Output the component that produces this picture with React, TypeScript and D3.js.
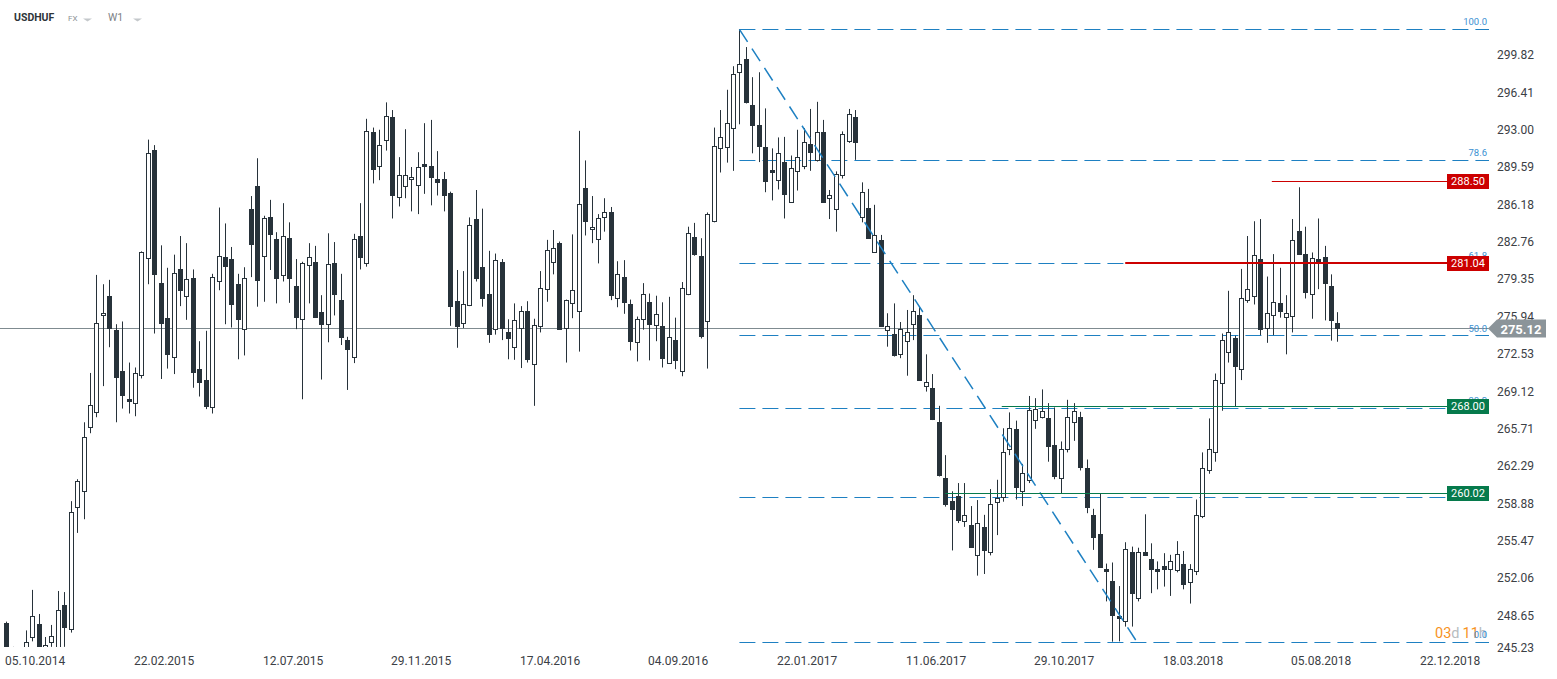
import React from "react";
import * as d3 from "d3";

// Weekly candles USDHUF: [open, high, low, close]
const ohlc: [number, number, number, number][] = [
  [248.2, 248.3, 244.5, 245.0], [244.9, 246.0, 243.5, 244.2], [244.2, 245.8, 243.0, 245.0], [245.5, 247.5, 245.0, 246.4],
  [246.9, 251.2, 246.5, 248.85], [248.06, 249.0, 245.6, 246.1], [245.9, 246.9, 245.5, 246.2], [246.4, 248.0, 246.0, 247.0],
  [246.0, 251.1, 245.8, 249.4], [249.8, 251.0, 246.0, 247.85], [247.6, 259.3, 247.3, 258.3], [258.8, 261.3, 256.4, 261.15],
  [260.2, 266.5, 257.65, 265.2], [266.1, 271.0, 265.5, 268.05], [267.4, 279.95, 266.96, 275.6], [276.3, 279.1, 269.8, 276.5],
  [278.05, 279.5, 273.35, 275.15], [274.9, 275.45, 266.5, 270.65], [271.2, 275.7, 267.75, 269.0], [268.65, 271.95, 267.3, 268.4],
  [268.3, 271.5, 267.05, 271.0], [270.8, 282.1, 270.5, 282.0], [281.45, 292.3, 279.1, 291.1], [291.35, 291.8, 274.6, 280.05],
  [279.2, 282.65, 270.45, 275.6], [276.05, 280.6, 271.4, 272.7], [272.45, 281.8, 270.9, 280.1], [280.45, 283.5, 277.1, 278.6],
  [278.0, 282.85, 275.85, 279.55], [279.65, 280.45, 269.65, 271.05], [271.35, 273.9, 268.85, 270.2], [270.4, 274.85, 267.7, 267.95],
  [267.85, 280.05, 267.3, 279.75], [279.35, 286.1, 278.55, 281.7], [281.55, 284.65, 275.45, 280.75], [281.4, 282.5, 275.15, 277.25],
  [279.15, 280.05, 272.25, 275.95], [275.0, 280.65, 272.6, 279.65], [285.95, 287.15, 279.75, 282.8], [288.05, 290.6, 277.05, 279.5],
  [281.65, 285.35, 277.5, 285.15], [285.25, 286.8, 280.4, 283.7], [283.2, 283.85, 277.35, 279.7], [279.9, 286.5, 279.35, 283.5],
  [283.3, 284.75, 277.4, 279.7], [278.9, 281.4, 275.0, 276.15], [275.9, 281.15, 268.6, 281.0], [280.85, 282.85, 277.35, 281.55],
  [281.1, 282.6, 276.05, 276.15], [276.6, 278.1, 270.4, 275.45], [275.45, 283.75, 273.8, 280.95], [281.0, 282.95, 276.25, 278.25],
  [277.65, 280.05, 273.55, 274.3], [274.0, 274.3, 269.45, 273.15], [272.45, 283.7, 271.9, 283.2], [283.5, 286.5, 280.45, 281.55],
  [281.0, 294.2, 280.7, 293.05], [293.0, 293.4, 288.3, 289.65], [289.85, 293.2, 288.6, 291.85], [292.25, 295.7, 291.3, 294.45],
  [294.35, 295.0, 285.1, 287.2], [287.05, 290.7, 286.2, 289.05], [288.05, 293.25, 286.95, 289.05], [288.7, 289.8, 285.75, 288.85],
  [288.2, 291.15, 285.5, 289.8], [290.1, 293.8, 287.35, 289.85], [289.85, 294.1, 286.3, 288.85], [288.7, 291.25, 287.2, 288.45],
  [288.75, 289.35, 285.75, 287.2], [287.4, 287.55, 275.3, 277.15], [277.55, 280.4, 273.3, 275.3], [275.6, 280.3, 275.1, 277.25],
  [277.2, 285.2, 277.1, 284.55], [285.05, 287.7, 279.35, 279.65], [280.65, 286.0, 277.05, 277.8], [278.25, 282.15, 273.75, 274.55],
  [275.0, 281.9, 274.5, 281.3], [281.1, 281.4, 274.0, 275.15], [274.7, 275.9, 272.25, 274.15], [273.35, 277.35, 272.2, 275.8],
  [275.15, 277.1, 271.45, 276.65], [276.65, 277.55, 271.95, 272.3], [271.8, 275.95, 268.0, 275.4], [275.3, 280.3, 274.7, 278.75],
  [278.65, 283.15, 277.5, 282.2], [281.1, 284.05, 280.0, 282.45], [282.85, 283.0, 275.0, 275.05], [275.1, 277.7, 271.95, 277.65],
  [277.35, 283.65, 276.0, 278.55], [276.7, 293.1, 272.95, 286.4], [287.85, 290.4, 283.55, 284.9], [284.1, 287.15, 282.85, 284.3],
  [283.25, 285.5, 281.0, 285.1], [285.2, 286.95, 283.9, 285.65], [285.65, 286.15, 277.65, 278.15], [277.8, 281.2, 277.0, 280.0],
  [279.8, 281.3, 276.4, 277.5], [277.25, 277.7, 273.05, 273.95], [273.85, 276.15, 272.05, 275.9], [275.9, 279.2, 274.95, 278.2],
  [277.45, 278.25, 272.15, 275.5], [275.35, 278.05, 273.9, 276.35], [275.25, 277.45, 271.5, 272.35], [271.95, 277.95, 271.9, 274.3],
  [274.0, 276.05, 271.35, 272.15], [271.2, 279.3, 270.7, 278.75], [278.2, 284.35, 278.1, 283.75], [283.4, 284.7, 281.7, 281.85],
  [281.65, 283.3, 274.15, 274.35], [275.7, 285.65, 271.4, 285.5], [284.9, 293.4, 284.75, 291.7], [291.5, 295.0, 289.3, 292.55],
  [291.65, 296.85, 290.2, 293.8], [293.35, 299.0, 289.45, 298.25], [298.45, 302.37, 293.7, 299.2], [299.65, 300.75, 295.6, 295.75],
  [295.45, 298.0, 291.05, 293.6], [293.6, 298.45, 290.25, 291.75], [291.65, 295.15, 287.5, 288.55], [289.55, 291.5, 286.75, 289.3],
  [288.6, 292.5, 287.75, 291.05], [290.25, 292.55, 285.1, 287.3], [286.65, 290.85, 286.55, 289.7], [289.4, 293.2, 287.65, 290.7],
  [289.85, 293.35, 289.6, 292.05], [291.9, 295.1, 289.45, 291.15], [290.4, 295.75, 290.3, 292.95], [292.95, 294.1, 286.55, 286.65],
  [286.95, 287.7, 285.05, 287.2], [285.95, 289.4, 283.9, 289.2], [289.05, 293.05, 288.75, 292.8], [292.15, 295.1, 292.0, 294.6],
  [294.35, 295.0, 290.45, 292.05], [285.2, 288.4, 284.75, 287.5], [286.1, 287.8, 283.3, 283.35], [282.0, 286.35, 281.95, 283.55],
  [283.15, 283.6, 275.2, 275.3], [274.9, 276.45, 273.4, 275.25], [274.6, 277.35, 272.5, 272.6], [272.7, 275.65, 272.35, 275.0],
  [273.9, 276.75, 270.75, 274.7], [275.45, 278.1, 274.0, 276.65], [276.3, 277.05, 270.3, 270.35], [269.85, 272.7, 269.3, 270.15],
  [269.6, 270.9, 266.7, 266.8], [266.5, 268.0, 261.55, 261.7], [261.4, 263.5, 258.8, 259.05], [259.3, 260.2, 254.8, 258.55],
  [259.75, 260.95, 257.3, 257.6], [257.45, 260.95, 256.95, 258.0], [257.1, 258.85, 255.05, 255.15], [254.35, 259.4, 252.5, 257.35],
  [256.95, 258.05, 252.65, 254.8], [254.7, 260.4, 254.35, 259.0], [259.2, 261.25, 256.2, 259.6], [259.65, 265.95, 259.25, 263.8],
  [264.05, 267.4, 263.5, 265.95], [265.85, 266.65, 259.45, 260.55], [260.2, 262.7, 258.85, 261.85], [261.2, 268.9, 260.95, 267.6],
  [266.7, 268.7, 265.9, 267.7], [266.95, 269.5, 266.85, 267.5], [266.85, 268.25, 262.9, 264.35], [264.4, 267.85, 261.3, 261.55],
  [261.4, 264.75, 260.0, 264.05], [264.05, 268.55, 263.75, 266.95], [266.5, 268.25, 264.8, 267.5], [266.95, 267.45, 262.1, 262.45],
  [262.3, 263.1, 258.2, 258.8], [258.05, 258.6, 254.85, 256.05], [256.3, 260.0, 253.2, 253.3], [253.15, 253.6, 250.15, 252.95],
  [252.0, 253.7, 246.47, 248.9], [248.8, 251.55, 246.5, 248.6], [248.4, 255.55, 247.85, 254.9], [254.65, 255.15, 247.85, 250.95],
  [250.45, 255.05, 250.15, 254.7], [254.65, 258.1, 254.3, 254.4], [254.0, 255.45, 250.9, 253.15], [253.15, 253.8, 251.25, 252.95],
  [253.4, 254.55, 251.5, 253.1], [253.15, 254.4, 250.65, 253.85], [253.0, 255.65, 252.8, 254.45], [253.6, 254.75, 251.25, 251.7],
  [251.9, 253.55, 249.95, 253.1], [252.95, 259.45, 252.55, 258.0], [257.9, 263.75, 257.75, 262.3], [262.15, 266.85, 261.8, 264.1],
  [263.8, 270.95, 262.9, 270.4], [270.05, 274.6, 267.55, 274.0], [272.95, 278.5, 271.95, 274.75], [274.15, 274.4, 267.95, 271.6],
  [271.35, 280.5, 270.35, 277.8], [277.7, 283.5, 277.4, 278.65], [278.0, 284.85, 277.25, 281.75], [281.4, 285.05, 274.45, 275.0],
  [275.1, 279.8, 273.75, 276.5], [276.25, 281.85, 274.45, 277.5], [277.35, 280.6, 276.05, 276.65], [276.15, 278.1, 272.7, 276.5],
  [276.2, 285.05, 274.7, 283.1], [284.0, 287.95, 281.85, 281.9], [281.9, 284.35, 277.8, 278.35], [278.2, 282.0, 275.95, 281.45],
  [281.4, 285.1, 278.65, 281.05], [281.55, 282.6, 275.8, 279.25], [278.9, 280.0, 273.95, 275.85], [275.6, 276.55, 273.85, 275.12],
];

const xTickLabels = ["05.10.2014", "22.02.2015", "12.07.2015", "29.11.2015", "17.04.2016", "04.09.2016",
  "22.01.2017", "11.06.2017", "29.10.2017", "18.03.2018", "05.08.2018", "22.12.2018"];
const xTickIndex = [0, 20, 40, 60, 80, 100, 120, 140, 160, 180, 200, 220];

const yTickLabels = ["299.82", "296.41", "293.00", "289.59", "286.18", "282.76", "279.35", "275.94", "272.53",
  "269.12", "265.71", "262.29", "258.88", "255.47", "252.06", "248.65", "245.23"];

const fibHigh = 302.37;
const fibLow = 246.47;
const fibHighIndex = 114;
const fibLowIndex = 175.8;
const fibLevels = [100, 78.6, 61.8, 50, 38.2, 23.6, 0];

const levelValues = [288.5, 281.04, 268.0, 260.02];
const levelLabels = ["288.50", "281.04", "268.00", "260.02"];
const levelColors = ["#cc0000", "#cc0000", "#067a4c", "#067a4c"];
const levelStartIndex = [196.8, 174, 154.8, 146];
const levelWidths = [1, 2, 1, 1];

const lastPrice = 275.12;

const W = 1557;
const H = 679;
const PLOT_RIGHT = 1489;
const PLOT_BOTTOM = 647;

const DARK = "#27323a";
const BLUE = "#1e80c2";

export default function App() {
  const x = d3.scaleLinear().domain([0, 220]).range([6.4, 6.4 + 6.43 * 220]);
  const y = d3.scaleLinear().domain([fibLow, fibHigh]).range([641.7, 29.3]);
  const fibVal = (l: number) => fibLow + (fibHigh - fibLow) * (l / 100);
  const py = (v: number) => Math.round(y(v)) + 0.5;

  const candles = ohlc.map(([o, h, l, c], i) => {
    const cx = Math.round(x(i));
    const top = Math.round(y(Math.max(o, c)));
    const bot = Math.round(y(Math.min(o, c)));
    const bull = c >= o;
    return (
      <g key={i}>
        <line x1={cx + 0.5} x2={cx + 0.5} y1={y(h)} y2={y(l)} stroke={DARK} strokeWidth={1} />
        <rect x={cx - 1.5} y={top + 0.5} width={4} height={Math.max(1, bot - top)}
          fill={bull ? "#ffffff" : DARK} stroke={DARK} strokeWidth={1} />
      </g>
    );
  });

  const x0 = x(fibHighIndex);
  const priceY = py(lastPrice);

  return (
    <svg width={W} height={H} style={{ position: "absolute", left: 0, top: 0, background: "#fff" }}
      fontFamily="Roboto, sans-serif">
      <defs>
        <clipPath id="plot">
          <rect x={0} y={0} width={PLOT_RIGHT} height={PLOT_BOTTOM} />
        </clipPath>
      </defs>
      <rect x={0} y={0} width={W} height={H} fill="#fff" />

      {/* title */}
      <text x={14} y={21} fontSize={10.5} fontWeight="bold" fill="#2e3439">USDHUF</text>
      <text x={68} y={21} fontSize={8} fill="#8c9296">FX</text>
      <polygon points="83,18.5 92,18.5 87.5,21.5" fill="#c4c8cb" />
      <text x={108} y={21} fontSize={10.5} fill="#7c8286">W1</text>
      <polygon points="133,18.5 142,18.5 137.5,21.5" fill="#c4c8cb" />

      <g clipPath="url(#plot)">
        {/* price line */}
        <line x1={0} x2={PLOT_RIGHT} y1={priceY} y2={priceY} stroke="#7f8b90" strokeWidth={1} />

        {/* fibonacci lines */}
        {fibLevels.map((l) => (
          <line key={l} x1={x0} x2={PLOT_RIGHT} y1={py(fibVal(l))} y2={py(fibVal(l))}
            stroke={BLUE} strokeWidth={1} strokeDasharray="16 7" />
        ))}

        {candles}

        {/* diagonal trend of fib */}
        <line x1={x(fibHighIndex)} y1={y(fibHigh)} x2={x(fibLowIndex)} y2={y(fibLow)}
          stroke={BLUE} strokeWidth={1.5} strokeDasharray="15 8" />

        {/* level lines */}
        {levelValues.map((v, k) => (
          <line key={k} x1={x(levelStartIndex[k])} x2={1447} y1={levelWidths[k] === 2 ? y(v) : py(v)} y2={levelWidths[k] === 2 ? y(v) : py(v)}
            stroke={levelColors[k]} strokeWidth={levelWidths[k]} />
        ))}
      </g>

      {/* countdown */}
      <text x={1435} y={638} fontSize={14.5}>
        <tspan fill="#f7931e">03</tspan>
        <tspan fill="#b7bcbf">d</tspan>
        <tspan fill="#f7931e" dx={3}>11</tspan>
        <tspan fill="#b7bcbf">h</tspan>
      </text>

      {/* fib labels */}
      {fibLevels.map((l) => (
        <text key={l} x={1487} y={y(fibVal(l)) - 4} fontSize={9.5} fill="#3a90d2" textAnchor="end">
          {l.toFixed(1)}
        </text>
      ))}

      {/* level boxes */}
      {levelValues.map((v, k) => (
        <g key={k}>
          <rect x={1447} y={Math.round(y(v)) - 7} width={42} height={15} fill={levelColors[k]} />
          <text x={1468} y={y(v) + 0.5} fontSize={11} fill="#fff" textAnchor="middle" dominantBaseline="central">
            {levelLabels[k]}
          </text>
        </g>
      ))}

      {/* y axis labels */}
      {yTickLabels.map((t) => (
        <text key={t} x={1497} y={Math.min(648, y(+t) - 2)} fontSize={12} fill="#3b4045" dominantBaseline="central">
          {t}
        </text>
      ))}

      {/* current price label */}
      <polygon
        points={`1488,${priceY} 1497,${priceY - 9} 1546,${priceY - 9} 1546,${priceY + 9} 1497,${priceY + 9}`}
        fill="#8b9499" />
      <text x={1521} y={priceY + 0.5} fontSize={13} fontWeight="bold" fill="#fff" textAnchor="middle" dominantBaseline="central">
        {lastPrice.toFixed(2)}
      </text>

      {/* x axis labels */}
      {xTickLabels.map((t, k) => (
        <text key={t} x={Math.round(x(xTickIndex[k])) - 1} y={665} fontSize={12} fill="#3b4045">
          {t}
        </text>
      ))}
    </svg>
  );
}
